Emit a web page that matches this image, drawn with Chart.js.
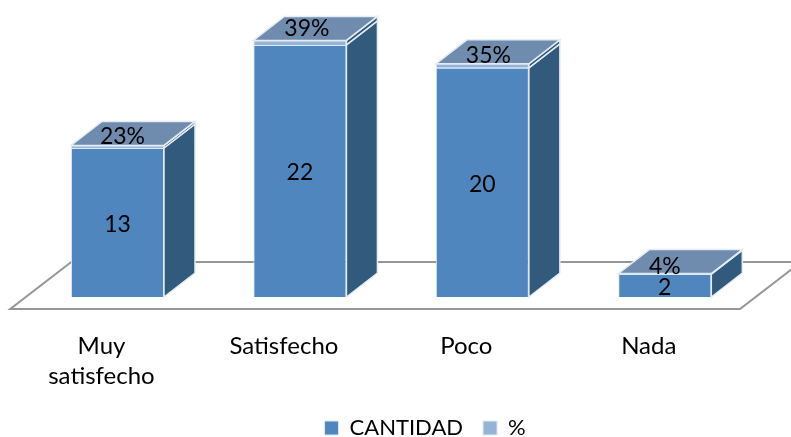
<!DOCTYPE html>
<html>
<head>
<meta charset="utf-8">
<title>Satisfacción</title>
<script src="https://cdn.jsdelivr.net/npm/chart.js@4/dist/chart.umd.min.js"></script>
<style>
  html, body { margin: 0; padding: 0; background: #fff; }
  canvas { display: block; }
</style>
</head>
<body>
<canvas id="chart" width="791" height="437"></canvas>
<script>
// Chart data
const categories = [['Muy', 'satisfecho'], 'Satisfecho', 'Poco', 'Nada'];
const cantidad = [13, 22, 20, 2];
const porcentaje = [0.23, 0.39, 0.35, 0.04];
const yMax = 25;

// 3D look
const depthX = 31;
const depthY = -24;
const percentNudge = [[5, -9], [7, -12], [6, -8], [0, -7]];
const fontName = 'Lato, "Open Sans", sans-serif';
const labelSize = 23;
const tickSize = 24;
const legendSize = 22;

function polygon(ctx, pts, fill, stroke) {
  ctx.beginPath();
  pts.forEach((p, i) => (i ? ctx.lineTo(p[0], p[1]) : ctx.moveTo(p[0], p[1])));
  ctx.closePath();
  ctx.fillStyle = fill;
  ctx.fill();
  ctx.strokeStyle = stroke;
  ctx.lineWidth = 1.5;
  ctx.stroke();
}

// Floor and the side/top faces, drawn behind the library's own bars
const bars3d = {
  id: 'bars3d',
  beforeDatasetsDraw(chart) {
    const ctx = chart.ctx;
    const area = chart.chartArea;
    const base = Math.round(chart.scales.y.getPixelForValue(0));

    ctx.save();
    ctx.strokeStyle = '#969696';
    ctx.lineWidth = 2;
    ctx.beginPath();
    ctx.moveTo(area.left + 45, base - 35);
    ctx.lineTo(area.left - 16, base + 12);
    ctx.lineTo(area.right - 16, base + 12);
    ctx.lineTo(area.right + 45, base - 35);
    ctx.moveTo(area.left + 45, base - 35);
    ctx.lineTo(area.right + 45, base - 35);
    ctx.stroke();

    const low = chart.getDatasetMeta(0).data;
    const high = chart.getDatasetMeta(1).data;
    low.forEach((bar, i) => {
      const right = bar.x + bar.width / 2;
      const left = bar.x - bar.width / 2;
      const top = high[i].y;
      polygon(ctx, [[right, bar.base], [right + depthX, bar.base + depthY], [right + depthX, bar.y + depthY], [right, bar.y]], '#315a7c', '#e4ecf4');
      polygon(ctx, [[right, bar.y], [right + depthX, bar.y + depthY], [right + depthX, top + depthY], [right, top]], '#315a7c', '#e4ecf4');
      polygon(ctx, [[left, top], [left + depthX, top + depthY], [right + depthX, top + depthY], [right, top]], '#6f8cae', '#e4ecf4');
    });
    ctx.restore();
  },
  afterDatasetsDraw(chart) {
    const ctx = chart.ctx;
    const low = chart.getDatasetMeta(0).data;
    const high = chart.getDatasetMeta(1).data;

    ctx.save();
    ctx.fillStyle = '#000';
    ctx.font = labelSize + 'px ' + fontName;
    ctx.textAlign = 'center';
    ctx.textBaseline = 'middle';
    low.forEach((bar, i) => {
      ctx.fillText(cantidad[i], bar.x, (bar.y + bar.base) / 2 + 2);
      const label = Math.round(porcentaje[i] * 100) + '%';
      ctx.fillText(label, bar.x + percentNudge[i][0], high[i].y + percentNudge[i][1]);
    });
    ctx.restore();
  },
};

// The legend sits to the right of the page centre in the original.
// The x scale box is also stretched here or the second tick line gets clipped.
const legendShift = {
  id: 'legendShift',
  afterLayout(chart) {
    const legend = chart.legend;
    legend.left += 34;
    legend.right += 34;
    legend.top += 12;
    legend.bottom += 12;
    chart.scales.x.bottom = chart.height;
  },
};

new Chart(document.getElementById('chart'), {
  type: 'bar',
  data: {
    labels: categories,
    datasets: [
      { label: 'CANTIDAD', data: cantidad, backgroundColor: '#4f86bd', borderColor: '#dfe9f3', borderWidth: 1 },
      { label: '%', data: porcentaje, backgroundColor: '#95b3d7', borderColor: '#dfe9f3', borderWidth: 1 },
    ],
  },
  options: {
    responsive: false,
    animation: false,
    layout: { padding: { top: 10.5, left: 26.25, right: 35, bottom: 0 } },
    datasets: { bar: { barPercentage: 1, categoryPercentage: 0.51 } },
    plugins: {
      tooltip: { enabled: false },
      legend: {
        position: 'bottom',
        labels: {
          color: '#000',
          boxWidth: 14,
          boxHeight: 14,
          padding: 20,
          font: { family: fontName, size: legendSize },
        },
      },
    },
    scales: {
      x: {
        stacked: true,
        grid: { display: false },
        border: { display: false },
        afterFit: (scale) => { scale.height = 88; },
        ticks: {
          color: '#000',
          autoSkip: false,
          maxRotation: 0,
          labelOffset: -16,
          padding: 26,
          font: { family: fontName, size: tickSize, lineHeight: 1.25 },
        },
      },
      y: { stacked: true, display: false, min: 0, max: yMax },
    },
  },
  plugins: [bars3d, legendShift],
});
</script>
</body>
</html>
